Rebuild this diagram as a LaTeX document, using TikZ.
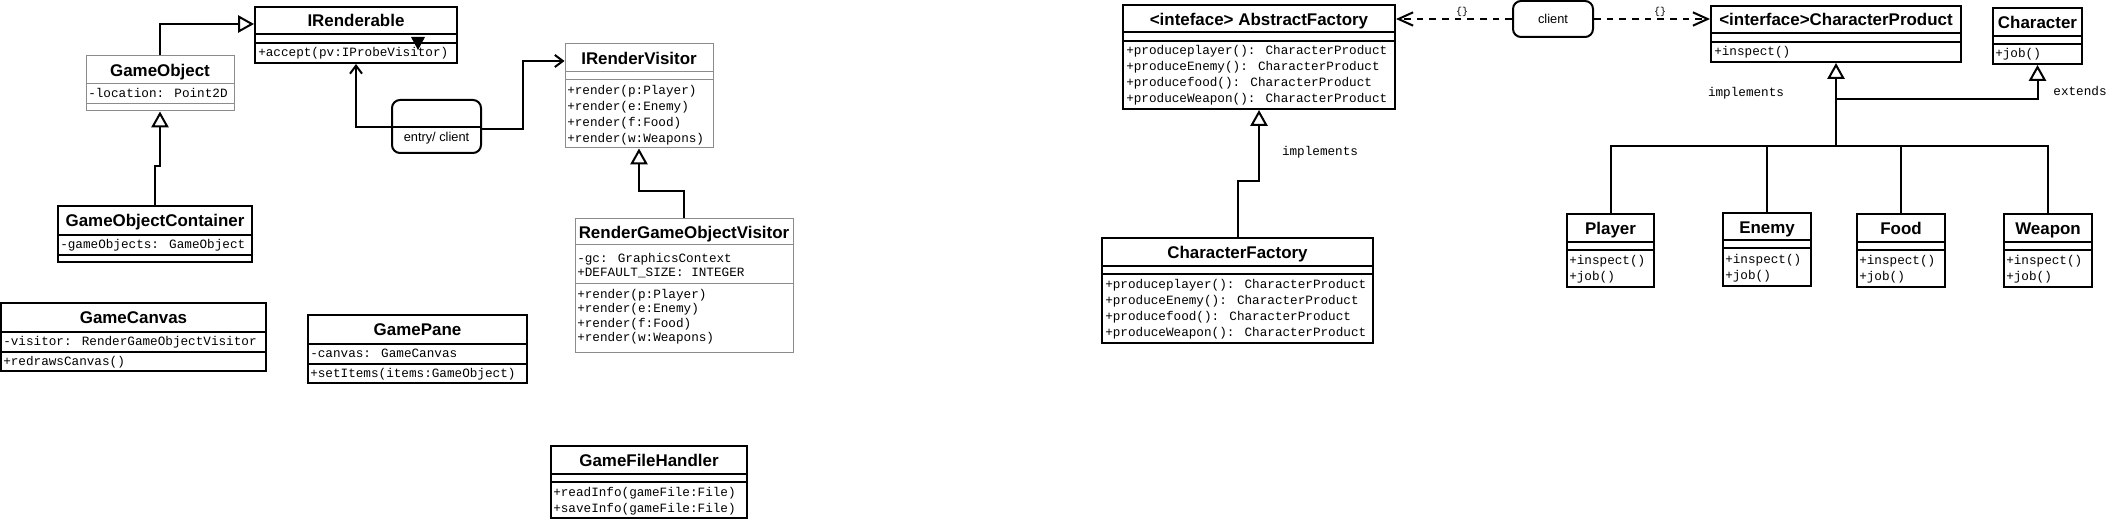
\documentclass[tikz,border=0pt]{standalone}
\usepackage{fontspec}
\setmainfont{Liberation Sans}
\newfontfamily\monofont{Liberation Mono}
\usetikzlibrary{arrows.meta,fit}
\definecolor{boxgray}{HTML}{8C8C8C}
\tikzset{
  x=0.75pt, y=-0.75pt,
  clsblack/.style={draw=black, line width=1.5pt, fill=white, inner sep=0pt, rectangle},
  clsgray/.style={draw=boxgray, line width=0.75pt, fill=white, inner sep=0pt, rectangle},
  sepblack/.style={draw=black, line width=1.5pt},
  sepgray/.style={draw=boxgray, line width=0.75pt},
  ctitle/.style={font=\fontsize{12.7}{14}\selectfont\bfseries, inner sep=0pt, text height=9.1pt, text depth=0pt},
  crow/.style={font=\monofont\fontsize{9.5}{11}\selectfont, inner sep=0pt, anchor=west, text height=5.2pt, text depth=0pt},
  lbl/.style={font=\monofont\fontsize{9.5}{11}\selectfont, inner sep=0pt, text height=5.2pt, text depth=0pt},
  smalllbl/.style={font=\monofont\fontsize{7.5}{9}\selectfont, inner sep=0pt},
  sanslbl/.style={font=\fontsize{9.6}{11}\selectfont, inner sep=0pt, text height=6.9pt, text depth=0pt},
  rbox/.style={draw=black, line width=1.5pt, rounded corners=6pt, fill=white, inner sep=0pt, rectangle},
  conn/.style={draw=black, line width=1.5pt},
  inherit/.style={conn, -{Triangle[open, length=12pt, width=13pt, fill=white]}},
  assoc/.style={conn, -{Straight Barb[length=6pt, width=9pt]}},
  dep/.style={conn, dash pattern=on 5pt off 4.5pt, -{Straight Barb[length=11pt, width=10pt]}},
}
\begin{document}
\begin{tikzpicture}
\useasboundingbox[fill=white] (0,0) rectangle (2119,520);

% ---------------- left diagram ----------------
% IRenderable
\node[clsblack, fit={(255,7) (457,63)}] (ir) {};
\draw[sepblack] (255,34) -- (457,34);
\draw[sepblack] (255,43) -- (457,43);
\node[ctitle] (ir-t) at (356,20.5) {IRenderable};
\node[crow] (ir-m1) at (258,53) {+accept(pv:IProbeVisitor)};
\fill[black] (411,37) -- (425,37) -- (418,50) -- cycle;

% GameObject
\node[clsgray, fit={(86,56) (234,111)}] (go) {};
\draw[sepgray] (86,84) -- (234,84);
\draw[sepgray] (86,104) -- (234,104);
\node[ctitle] (go-t) at (160,70) {GameObject};
\node[crow] (go-a1) at (88,94) {-location: Point2D};

% GameObjectContainer
\node[clsblack, fit={(58,206) (252,262)}] (goc) {};
\draw[sepblack] (58,235) -- (252,235);
\draw[sepblack] (58,255) -- (252,255);
\node[ctitle] (goc-t) at (155,220.5) {GameObjectContainer};
\node[crow] (goc-a1) at (60,245.5) {-gameObjects: GameObject};

% GameCanvas
\node[clsblack, fit={(1,303) (266,371)}] (gc) {};
\draw[sepblack] (1,332) -- (266,332);
\draw[sepblack] (1,352) -- (266,352);
\node[ctitle] (gc-t) at (133.5,317.5) {GameCanvas};
\node[crow] (gc-a1) at (3,342) {-visitor: RenderGameObjectVisitor};
\node[crow] (gc-m1) at (3,362) {+redrawsCanvas()};

% GamePane
\node[clsblack, fit={(308,315) (527,383)}] (gp) {};
\draw[sepblack] (308,344) -- (527,344);
\draw[sepblack] (308,364) -- (527,364);
\node[ctitle] (gp-t) at (417.5,329.5) {GamePane};
\node[crow] (gp-a1) at (310,354) {-canvas: GameCanvas};
\node[crow] (gp-m1) at (310,374) {+setItems(items:GameObject)};

% IRenderVisitor
\node[clsgray, fit={(565,44) (713,148)}] (irv) {};
\draw[sepgray] (565,72) -- (713,72);
\draw[sepgray] (565,80) -- (713,80);
\node[ctitle] (irv-t) at (639,58) {IRenderVisitor};
\node[crow] (irv-m1) at (567,91) {+render(p:Player)};
\node[crow] (irv-m2) at (567,107) {+render(e:Enemy)};
\node[crow] (irv-m3) at (567,123) {+render(f:Food)};
\node[crow] (irv-m4) at (567,139) {+render(w:Weapons)};

% RenderGameObjectVisitor
\node[clsgray, fit={(575,219) (793,352)}] (rgov) {};
\draw[sepgray] (575,245) -- (793,245);
\draw[sepgray] (575,283) -- (793,283);
\node[ctitle] (rgov-t) at (684,232) {RenderGameObjectVisitor};
\node[crow] (rgov-a1) at (577,259) {-gc: GraphicsContext};
\node[crow] (rgov-a2) at (577,273.5) {+DEFAULT\_SIZE: INTEGER};
\node[crow] (rgov-m1) at (577,295) {+render(p:Player)};
\node[crow] (rgov-m2) at (577,309.5) {+render(e:Enemy)};
\node[crow] (rgov-m3) at (577,324) {+render(f:Food)};
\node[crow] (rgov-m4) at (577,338.5) {+render(w:Weapons)};

% GameFileHandler
\node[clsblack, fit={(551,446) (747,518)}] (gfh) {};
\draw[sepblack] (551,474) -- (747,474);
\draw[sepblack] (551,482) -- (747,482);
\node[ctitle] (gfh-t) at (649,460) {GameFileHandler};
\node[crow] (gfh-m1) at (553,493) {+readInfo(gameFile:File)};
\node[crow] (gfh-m2) at (553,509.5) {+saveInfo(gameFile:File)};

% entry / client state
\node[rbox, fit={(392,100) (481,153)}] (ec) {};
\draw[sepblack] (392,127) -- (481,127);
\node[sanslbl] (ec-t) at (436.5,137) {entry/ client};

% left connectors
\draw[inherit] (go.north) |- (ir.west |- 0,24);
\draw[inherit] (goc.north) -- ++(0,-39) -| (go.south);
\draw[assoc] (ec.west |- 0,127) -| (ir.south);
\draw[assoc] (ec.east |- 0,129) -- (523,129) |- (irv.west |- 0,61);
\draw[inherit] (rgov.north) -- ++(0,-27) -| (irv.south);

% ---------------- right diagram ----------------
% AbstractFactory
\node[clsblack, fit={(1123,5) (1395,109)}] (af) {};
\draw[sepblack] (1123,32) -- (1395,32);
\draw[sepblack] (1123,41) -- (1395,41);
\node[ctitle] (af-t) at (1259,19) {<inteface> AbstractFactory};
\node[crow] (af-m1) at (1126,51) {+produceplayer(): CharacterProduct};
\node[crow] (af-m2) at (1126,67) {+produceEnemy(): CharacterProduct};
\node[crow] (af-m3) at (1126,83) {+producefood(): CharacterProduct};
\node[crow] (af-m4) at (1126,99) {+produceWeapon(): CharacterProduct};

% CharacterFactory
\node[clsblack, fit={(1102,238) (1373,343)}] (cf) {};
\draw[sepblack] (1102,266) -- (1373,266);
\draw[sepblack] (1102,274) -- (1373,274);
\node[ctitle] (cf-t) at (1237.5,252) {CharacterFactory};
\node[crow] (cf-m1) at (1105,285) {+produceplayer(): CharacterProduct};
\node[crow] (cf-m2) at (1105,301) {+produceEnemy(): CharacterProduct};
\node[crow] (cf-m3) at (1105,317) {+producefood(): CharacterProduct};
\node[crow] (cf-m4) at (1105,333) {+produceWeapon(): CharacterProduct};

% client
\node[rbox, fit={(1513,1) (1593,37)}] (cl) {};
\node[sanslbl] (cl-t) at (1553,19) {client};

% CharacterProduct
\node[clsblack, fit={(1711,6) (1961,62)}] (cp) {};
\draw[sepblack] (1711,33) -- (1961,33);
\draw[sepblack] (1711,42) -- (1961,42);
\node[ctitle] (cp-t) at (1836,19.5) {<interface>CharacterProduct};
\node[crow] (cp-m1) at (1714,52) {+inspect()};

% Character
\node[clsblack, fit={(1993,8) (2082,64)}] (ch) {};
\draw[sepblack] (1993,36) -- (2082,36);
\draw[sepblack] (1993,44) -- (2082,44);
\node[ctitle] (ch-t) at (2037.5,22) {Character};
\node[crow] (ch-m1) at (1995,54) {+job()};

% Player, Enemy, Food, Weapon
\node[clsblack, fit={(1567,214) (1654,287)}] (pl) {};
\draw[sepblack] (1567,242) -- (1654,242);
\draw[sepblack] (1567,250) -- (1654,250);
\node[ctitle] (pl-t) at (1610.5,228.5) {Player};
\node[crow] (pl-m1) at (1569,261) {+inspect()};
\node[crow] (pl-m2) at (1569,277) {+job()};

\node[clsblack, fit={(1723,213) (1811,286)}] (en) {};
\draw[sepblack] (1723,240) -- (1811,240);
\draw[sepblack] (1723,248) -- (1811,248);
\node[ctitle] (en-t) at (1767,227) {Enemy};
\node[crow] (en-m1) at (1725,260) {+inspect()};
\node[crow] (en-m2) at (1725,276) {+job()};

\node[clsblack, fit={(1857,214) (1945,287)}] (fo) {};
\draw[sepblack] (1857,242) -- (1945,242);
\draw[sepblack] (1857,250) -- (1945,250);
\node[ctitle] (fo-t) at (1901,228.5) {Food};
\node[crow] (fo-m1) at (1859,261) {+inspect()};
\node[crow] (fo-m2) at (1859,277) {+job()};

\node[clsblack, fit={(2004,214) (2092,287)}] (we) {};
\draw[sepblack] (2004,242) -- (2092,242);
\draw[sepblack] (2004,250) -- (2092,250);
\node[ctitle] (we-t) at (2048,228.5) {Weapon};
\node[crow] (we-m1) at (2006,261) {+inspect()};
\node[crow] (we-m2) at (2006,277) {+job()};

% right connectors
\draw[inherit] (cf.north) -- ++(0,-56) -| (af.south);
\node[lbl] (impl1) at (1320,152) {implements};

\draw[dep] (cl.west) -- (af.east |- cl.west);
\node[smalllbl] (dep1) at (1462,12) {\{\}};
\draw[dep] (cl.east) -- (cp.west |- cl.east);
\node[smalllbl] (dep2) at (1660,12) {\{\}};

\coordinate (bus) at (1836,146);
\coordinate (ext) at (1836,99);
\draw[conn] (pl.north) |- (bus);
\draw[conn] (en.north) |- (bus);
\draw[conn] (fo.north) |- (bus);
\draw[conn] (we.north) |- (bus);
\draw[inherit] (bus) -- (cp.south);
\draw[inherit] (ext) -| (ch.south);
\node[lbl] (impl2) at (1746,93) {implements};
\node[lbl] (extl) at (2080,92) {extends};
\end{tikzpicture}
\end{document}
